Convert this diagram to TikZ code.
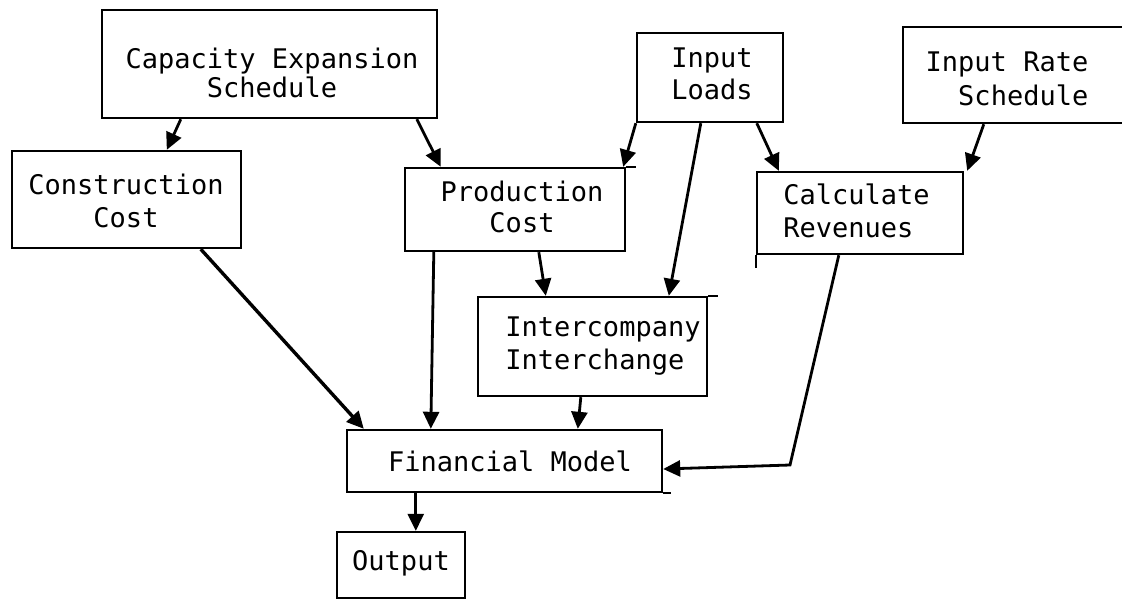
\documentclass[tikz,border=0pt]{standalone}
\usepackage{fontspec}
\newfontfamily\tw{DejaVu Sans Mono}
\usetikzlibrary{arrows.meta,calc}
\begin{document}
\begin{tikzpicture}[x=1pt,y=-1pt,
  box/.style={draw, line width=2.4pt, inner sep=0pt},
  txt/.style={font=\tw\fontsize{27}{#1}\selectfont, align=center, inner sep=0pt},
  txt/.default=32,
  edge/.style={line width=2.4pt},
  arr/.style={line width=2.8pt, -{Triangle[length=17pt,width=16pt]}}]
\useasboundingbox (0,0) rectangle (1122,603);
\clip (0,0) rectangle (1122,603);

% boxes
\node[box, minimum width=335pt, minimum height=108pt,
  label={[txt=29, xshift=2.5pt, yshift=-8.5pt]center:Capacity Expansion\\Schedule}] (ces) at (269.5,64) {};
\node[box, minimum width=146pt, minimum height=89pt,
  label={[txt, xshift=2pt, yshift=3.5pt]center:Input\\Loads}] (il) at (710,77.5) {};
\node[box, minimum width=237pt, minimum height=96pt,
  label={[txt=34, align=right, xshift=-14.5pt, yshift=-4pt]center:Input Rate\\Schedule}] (irs) at (1021.5,75) {};
\node[box, minimum width=229pt, minimum height=97pt,
  label={[txt=33, xshift=-0.5pt, yshift=-1.5pt]center:Construction\\Cost}] (cc) at (126.5,199.5) {};
\node[box, minimum width=220pt, minimum height=83pt,
  label={[txt=31, xshift=7pt, yshift=2.5pt]center:Production\\Cost}] (pc) at (515,209.5) {};
\node[box, minimum width=206pt, minimum height=82pt,
  label={[txt=33, align=left, xshift=-3.5pt, yshift=2pt]center:Calculate\\Revenues}] (cr) at (860,213) {};
\node[box, minimum width=229pt, minimum height=99pt,
  label={[txt=33, align=left, xshift=10.5pt]center:Intercompany\\Interchange}] (ic) at (592.5,346.5) {};
\node[box, minimum width=315pt, minimum height=62pt,
  label={[txt, xshift=5.5pt]center:Financial Model}] (fm) at (504.5,461) {};
\node[box, minimum width=128pt, minimum height=66pt,
  label={[txt, xshift=0pt, yshift=2pt]center:Output}] (out) at (401,565) {};

% hand-drawn overshoots of box lines
\draw[edge] (pc.north east) -- ++(10,0);
\draw[edge] (ic.north east) -- ++(10,0);
\draw[edge] (cr.south west) -- ++(0,13);
\draw[edge] (fm.south east) -- ++(8,0);

% connectors
\draw[arr] ($(ces.south west)+(80,0)$) -- ($(cc.north west)+(156,0)$);
\draw[arr] ($(ces.south west)+(316,0)$) -- ($(pc.north west)+(37,0)$);
\draw[arr] (il.south west) -- ($(pc.north east)+(-3,0)$);
\draw[arr] ($(il.south west)+(65,0)$) -- ($(ic.north west)+(192,0)$);
\draw[arr] ($(il.south west)+(121,0)$) -- ($(cr.north west)+(23,0)$);
\draw[arr] ($(irs.south west)+(82,0)$) -- ($(cr.north east)+(3,0)$);
\draw[arr, line width=3.4pt] ($(cc.south west)+(190,0)$) -- ($(fm.north west)+(18,0)$);
\draw[arr] ($(pc.south west)+(30,0)$) -- ($(fm.north west)+(85,0)$);
\draw[arr] ($(pc.south west)+(135,0)$) -- ($(ic.north west)+(69,0)$);
\draw[arr] ($(ic.south west)+(104,0)$) -- ($(fm.north west)+(232,0)$);
\draw[arr] ($(cr.south west)+(83,0)$) -- (790,465) -- ($(fm.east)+(0,8)$);
\draw[arr] ($(fm.south west)+(70,0)$) -- ($(out.north west)+(80,0)$);
\end{tikzpicture}
\end{document}
